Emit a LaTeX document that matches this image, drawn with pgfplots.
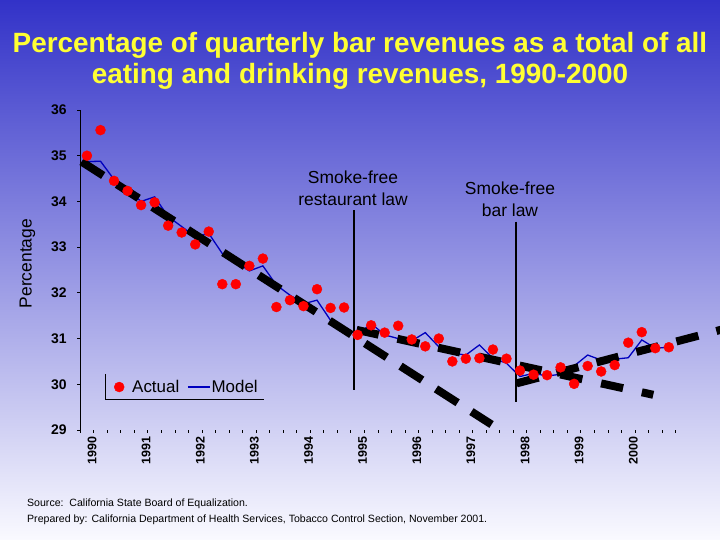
\documentclass[border=0pt]{standalone}
\usepackage{pgfplots}
\pgfplotsset{compat=1.18}
\usepackage{pgfplotstable}
\usetikzlibrary{backgrounds}
\usepackage{fontspec}
\setmainfont{Liberation Sans}
\setsansfont{Liberation Sans}

\definecolor{bgtop}{RGB}{50,50,200}
\definecolor{bgmid}{RGB}{160,160,225}
\definecolor{bgbot}{RGB}{250,250,255}
\definecolor{titleyellow}{RGB}{255,255,51}
\definecolor{modelblue}{RGB}{0,0,190}

\pgfplotsset{
  modellegend/.style={legend image code/.code={\draw[##1] (0bp,0bp) -- (22bp,0bp);}},
  actuallegend/.style={legend image code/.code={\draw[##1, mark repeat=2, mark phase=2] plot coordinates {(0bp,0bp) (6bp,0bp) (12bp,0bp)};}},
}

\pgfplotstableread{
q v
0 35.00
1 35.56
2 34.45
3 34.23
4 33.92
5 33.98
6 33.47
7 33.32
8 33.06
9 33.34
10 32.19
11 32.19
12 32.59
13 32.75
14 31.69
15 31.84
16 31.71
17 32.08
18 31.67
19 31.68
20 31.08
21 31.29
22 31.13
23 31.28
24 30.98
25 30.83
26 31.00
27 30.50
28 30.56
29 30.57
30 30.76
31 30.56
32 30.30
33 30.21
34 30.20
35 30.37
36 30.01
37 30.40
38 30.28
39 30.42
40 30.91
41 31.14
42 30.79
43 30.81
}\actual

\pgfplotstableread{
q v
0 34.87
1 34.88
2 34.48
3 34.25
4 34.00
5 34.10
6 33.67
7 33.45
8 33.23
9 33.30
10 32.86
11 32.68
12 32.48
13 32.59
14 32.17
15 31.95
16 31.76
17 31.84
18 31.40
19 31.22
20 31.08
21 31.33
22 31.08
23 31.00
24 30.95
25 31.13
26 30.82
27 30.68
28 30.64
29 30.86
30 30.57
31 30.46
32 30.17
33 30.24
34 30.18
35 30.22
36 30.40
37 30.64
38 30.53
39 30.55
40 30.58
41 30.97
42 30.79
43 30.81
}\model

\begin{document}
\begin{tikzpicture}[x=1bp,y=1bp]
\begin{axis}[
  width=595.4bp, height=320bp, scale only axis,
  xmin=-0.5, xmax=43.5, ymin=29, ymax=36,
  axis x line=bottom, axis y line=left, axis line style={-, black, line width=0.8bp},
  x axis line style={draw=none},
  xtick={0,4,...,40},
  xticklabels={1990,1991,1992,1993,1994,1995,1996,1997,1998,1999,2000},
  major x tick style={draw=none},
  minor xtick={-0.5,0.5,...,43.5},
  minor x tick style={black, line width=0.8bp},
  minor tick length=3bp,
  major tick length=3bp,
  tick align=outside,
  ytick={29,30,...,36},
  y tick style={black, line width=0.8bp},
  /pgf/number format/assume math mode=true,
  yticklabel style={font=\fontsize{14}{14}\selectfont\bfseries, xshift=-7bp},
  xticklabel style={rotate=90, anchor=east, font=\fontsize{12.5}{12.5}\selectfont\bfseries, yshift=-5bp},
  ylabel={Percentage},
  ylabel style={at={(axis description cs:-0.0885,0.52)}, anchor=center, font=\fontsize{17.5}{17.5}\selectfont},
  clip=false,
  reverse legend,
  legend columns=-1,
  legend style={at={(axis cs:2.0,29.94)}, anchor=west, draw=none, fill=none,
    font=\fontsize{17}{17}\selectfont, inner sep=0pt,
    nodes={inner sep=0pt},
    /tikz/column 1/.style={column sep=8bp},
    /tikz/column 2/.style={column sep=8bp},
    /tikz/column 3/.style={column sep=1bp}},
]
\addplot[modelblue, line width=1.3bp, no marks, modellegend] table[x=q,y=v] {\model};
\addlegendentry{Model}
\addplot[only marks, mark=*, mark size=5bp, draw=red, fill=red, actuallegend] table[x=q,y=v] {\actual};
\addlegendentry{Actual}
% trend lines
\addplot[black, line width=8bp, dash pattern=on 25.7bp off 16.4bp, forget plot] coordinates {(-0.4,34.87) (29.9,29.12)};
\addplot[black, line width=8bp, dash pattern=on 22.5bp off 19.2bp, forget plot] coordinates {(19.93,31.19) (41.85,29.77)};
\addplot[black, line width=8bp, dash pattern=on 22.7bp off 18.6bp, forget plot] coordinates {(31.75,30.02) (48.5,31.32)};
% law lines
\addplot[black, line width=1.6bp, forget plot] coordinates {(19.75,33.81) (19.75,29.87)};
\addplot[black, line width=1.6bp, forget plot] coordinates {(31.7,33.56) (31.7,29.62)};
\node[align=center, font=\fontsize{17.5}{22}\selectfont] at (axis cs:19.66,34.29) {Smoke-free\\restaurant law};
\node[align=center, font=\fontsize{17.5}{22}\selectfont] at (axis cs:31.26,34.04) {Smoke-free\\bar law};
\draw[black, line width=0.8bp] (axis cs:1.38,30.225) -- (axis cs:1.38,29.67) -- (axis cs:13.1,29.67);
\coordinate (O) at (rel axis cs:0,0);
\end{axis}
\begin{scope}[shift={(O)}, xshift=-80.2bp, yshift=-110bp]
\begin{pgfonlayer}{background}
\shade[top color=bgtop, middle color=bgmid, bottom color=bgbot] (0,0) rectangle (720,540);
\end{pgfonlayer}
\node[anchor=base, font=\fontsize{28}{31}\selectfont\bfseries, text=titleyellow] at (360,487) {Percentage of quarterly bar revenues as a total of all};
\node[anchor=base, font=\fontsize{28}{31}\selectfont\bfseries, text=titleyellow] at (360,456) {eating and drinking revenues, 1990-2000};
\node[anchor=base west, inner sep=0pt, font=\fontsize{10.6}{12}\selectfont] at (27,33) {Source:\ \ California State Board of Equalization.};
\node[anchor=base west, inner sep=0pt, font=\fontsize{10.6}{12}\selectfont] at (27,17) {Prepared by: California Department of Health Services, Tobacco Control Section, November 2001.};
\pgfresetboundingbox
\path[use as bounding box] (0,0) rectangle (720,540);
\end{scope}
\end{tikzpicture}
\end{document}
